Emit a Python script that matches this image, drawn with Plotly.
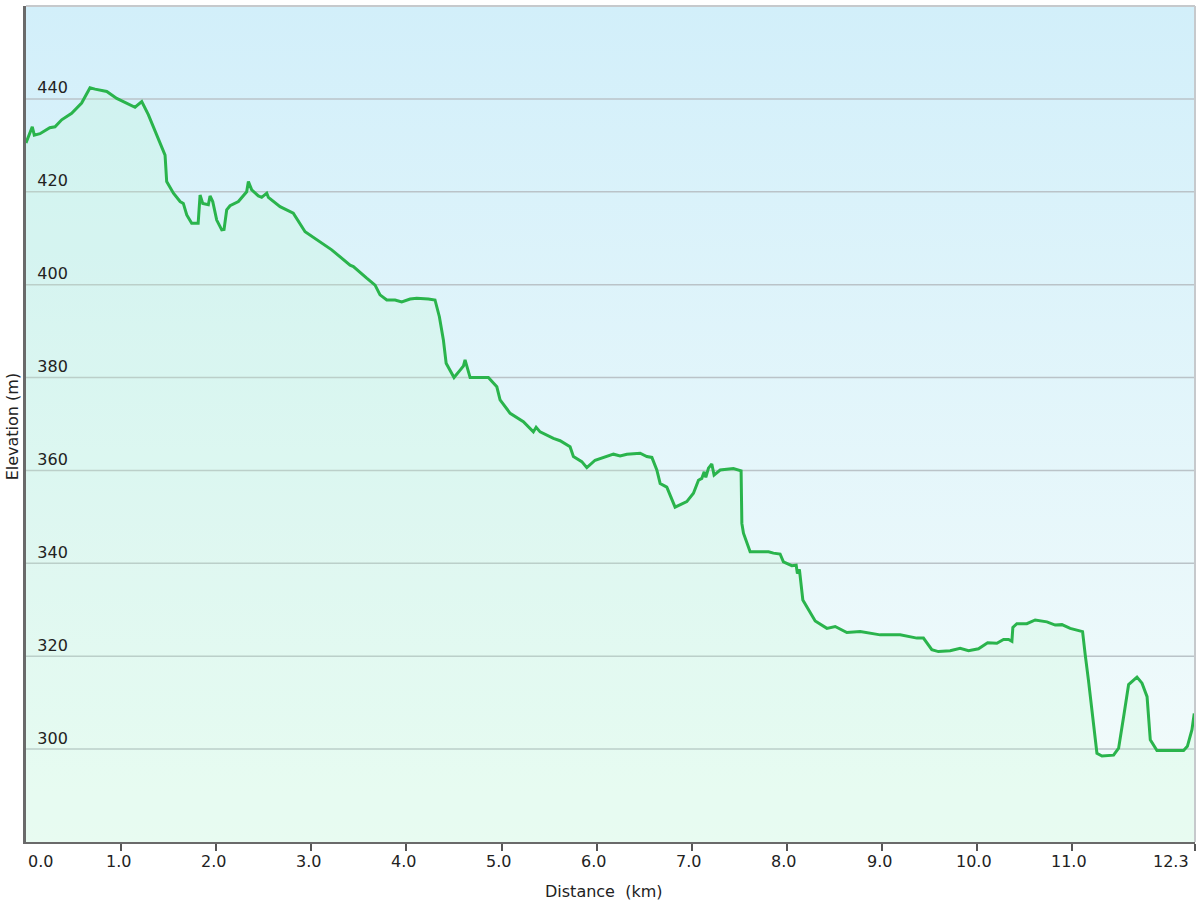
import plotly.graph_objects as go

# Distance (km) and elevation (m)
distance_km = [
    0.0, 0.066, 0.087, 0.147, 0.25, 0.305, 0.375, 0.48, 0.585, 0.673, 0.726, 0.849, 0.954,
    1.041, 1.146, 1.217, 1.286, 1.462, 1.479, 1.55, 1.62, 1.654, 1.69, 1.742, 1.81, 1.83,
    1.858, 1.917, 1.935, 1.963, 2.005, 2.058, 2.082, 2.11, 2.145, 2.233, 2.32, 2.338, 2.373,
    2.443, 2.478, 2.531, 2.548, 2.671, 2.81, 2.934, 3.09, 3.214, 3.407, 3.442, 3.582, 3.67,
    3.722, 3.793, 3.88, 3.95, 4.038, 4.108, 4.23, 4.30, 4.346, 4.388, 4.417, 4.50, 4.564,
    4.599, 4.616, 4.669, 4.861, 4.95, 4.984, 5.09, 5.229, 5.334, 5.363, 5.405, 5.545, 5.615,
    5.72, 5.755, 5.843, 5.896, 5.983, 6.07, 6.176, 6.246, 6.317, 6.457, 6.527, 6.58, 6.632,
    6.667, 6.737, 6.824, 6.877, 6.947, 7.017, 7.07, 7.105, 7.13, 7.147, 7.175, 7.21, 7.234,
    7.298, 7.437, 7.518, 7.526, 7.543, 7.56, 7.613, 7.806, 7.858, 7.928, 7.963, 8.051, 8.086,
    8.097, 8.11, 8.131, 8.167, 8.297, 8.42, 8.507, 8.63, 8.77, 8.98, 9.19, 9.366, 9.435,
    9.523, 9.592, 9.716, 9.821, 9.909, 10.014, 10.11, 10.207, 10.277, 10.33, 10.365, 10.375,
    10.417, 10.522, 10.61, 10.733, 10.82, 10.891, 10.978, 11.108, 11.136, 11.17, 11.259,
    11.312, 11.434, 11.487, 11.54, 11.592, 11.68, 11.733, 11.786, 11.82, 11.89, 11.995,
    12.17, 12.21, 12.258, 12.282,
]
elevation_m = [
    430.5, 434.0, 432.2, 432.5, 433.8, 434.0, 435.5, 436.9, 439.1, 442.4, 442.1, 441.6, 440.1,
    439.3, 438.2, 439.4, 436.6, 427.9, 422.2, 419.7, 417.9, 417.5, 415.0, 413.2, 413.2, 419.3,
    417.5, 417.2, 419.1, 417.9, 413.9, 411.8, 411.9, 416.1, 417.0, 417.9, 420.0, 422.2, 420.4,
    419.1, 418.8, 419.7, 418.8, 416.8, 415.4, 411.4, 409.3, 407.5, 404.2, 403.9, 401.4, 399.9,
    397.8, 396.7, 396.7, 396.3, 396.9, 397.1, 396.9, 396.7, 393.1, 388.1, 383.1, 380.0, 381.6,
    382.5, 383.8, 380.0, 380.0, 378.0, 375.2, 372.3, 370.5, 368.3, 369.3, 368.3, 366.9, 366.4,
    365.1, 363.0, 361.9, 360.6, 362.2, 362.8, 363.5, 363.1, 363.5, 363.7, 363.0, 362.8, 360.1,
    357.2, 356.4, 352.1, 352.6, 353.3, 355.1, 357.9, 358.3, 359.7, 358.5, 360.5, 361.4, 359.0,
    360.1, 360.4, 359.9, 348.6, 346.5, 345.4, 342.5, 342.5, 342.2, 342.0, 340.3, 339.5, 339.5,
    339.6, 337.8, 338.7, 332.1, 327.6, 326.0, 326.4, 325.1, 325.3, 324.6, 324.6, 323.9, 323.9,
    321.4, 321.0, 321.2, 321.7, 321.2, 321.6, 322.9, 322.8, 323.6, 323.6, 323.2, 326.2,
    327.0, 327.0, 327.8, 327.4, 326.7, 326.8, 326.0, 325.3, 320.3, 314.8, 299.1,
    298.5, 298.7, 300.2, 307.0, 313.9, 315.5, 314.2, 311.3, 302.0, 299.7, 299.7,
    299.7, 300.6, 304.2, 307.7,
]

x_tick_values = [0, 1, 2, 3, 4, 5, 6, 7, 8, 9, 10, 11, 12.29]
x_tick_labels = ["0.0", "1.0", "2.0", "3.0", "4.0", "5.0", "6.0", "7.0", "8.0", "9.0",
                 "10.0", "11.0", "12.3"]
y_tick_values = [300, 320, 340, 360, 380, 400, 420, 440]

X_MIN, X_MAX = 0, 12.29
Y_MIN, Y_MAX = 280, 460

FONT = "DejaVu Sans"
TEXT_COLOR = "#222222"

fig = go.Figure()

# Gradient plot background
fig.add_trace(go.Scatter(
    x=[X_MIN, X_MAX, X_MAX, X_MIN, X_MIN],
    y=[Y_MIN, Y_MIN, Y_MAX, Y_MAX, Y_MIN],
    mode="none", fill="toself",
    fillgradient=dict(type="vertical", start=Y_MIN, stop=Y_MAX,
                      colorscale=[[0, "#f4fcfb"], [1, "#d2effa"]]),
    hoverinfo="skip", showlegend=False,
))

# Horizontal grid lines (drawn over the gradient, under the profile)
grid_x, grid_y = [], []
for v in y_tick_values:
    grid_x += [X_MIN, X_MAX, None]
    grid_y += [v, v, None]
fig.add_trace(go.Scatter(
    x=grid_x, y=grid_y, mode="lines",
    line=dict(color="#bac3c8", width=1.5),
    hoverinfo="skip", showlegend=False,
))

# Elevation profile
fig.add_trace(go.Scatter(
    x=distance_km, y=elevation_m,
    mode="lines", fill="tozeroy",
    fillcolor="rgba(190,250,205,0.22)",
    line=dict(color="#2ab44c", width=3),
    hoverinfo="skip", showlegend=False,
))

annotations = []
for i, (v, t) in enumerate(zip(x_tick_values, x_tick_labels)):
    if i == 0:
        anchor, shift = "left", 0
    elif i == len(x_tick_values) - 1:
        anchor, shift = "right", -4
    else:
        anchor, shift = "center", -3
    annotations.append(dict(
        x=v, y=0, xref="x", yref="paper", text=t, showarrow=False,
        xanchor=anchor, yanchor="top", xshift=shift, yshift=-8,
        font=dict(family=FONT, size=16, color=TEXT_COLOR),
    ))
annotations.append(dict(
    x=0.494, y=0, xref="paper", yref="paper", text="Distance\u00a0\u00a0(km)",
    showarrow=False, xanchor="center", yanchor="top", yshift=-38,
    font=dict(family=FONT, size=16, color=TEXT_COLOR),
))
annotations.append(dict(
    x=0, y=0.496, xref="paper", yref="paper", text="Elevation (m)",
    showarrow=False, xanchor="center", yanchor="middle", xshift=-14, textangle=-90,
    font=dict(family=FONT, size=16, color=TEXT_COLOR),
))

fig.update_layout(
    width=1200, height=900,
    margin=dict(l=26, r=5, t=6, b=58),
    paper_bgcolor="white", plot_bgcolor="white",
    annotations=annotations,
    shapes=[
        dict(type="line", xref="paper", yref="paper", x0=0, x1=1, y0=1, y1=1,
             line=dict(color="#c6c9cc", width=2)),
        dict(type="line", xref="paper", yref="paper", x0=1, x1=1, y0=0, y1=1,
             line=dict(color="#c6c9cc", width=2)),
    ],
)

fig.update_xaxes(
    range=[X_MIN, X_MAX], showgrid=False, zeroline=False,
    tickvals=x_tick_values, showticklabels=False,
    ticks="outside", ticklen=7, tickwidth=2, tickcolor="#555555",
    showline=True, linecolor="#6a6a6a", linewidth=2,
)
fig.update_yaxes(
    range=[Y_MIN, Y_MAX], zeroline=False,
    tickvals=y_tick_values, ticks="",
    ticklabelposition="inside top", ticklabelstandoff=10,
    tickfont=dict(family=FONT, size=16, color=TEXT_COLOR),
    showgrid=False,
    showline=True, linecolor="#6a6a6a", linewidth=3,
)

fig.write_html(
    "out.html",
    config={"displayModeBar": False},
    post_script="document.body.style.margin='0';document.body.style.overflow='hidden';",
)
